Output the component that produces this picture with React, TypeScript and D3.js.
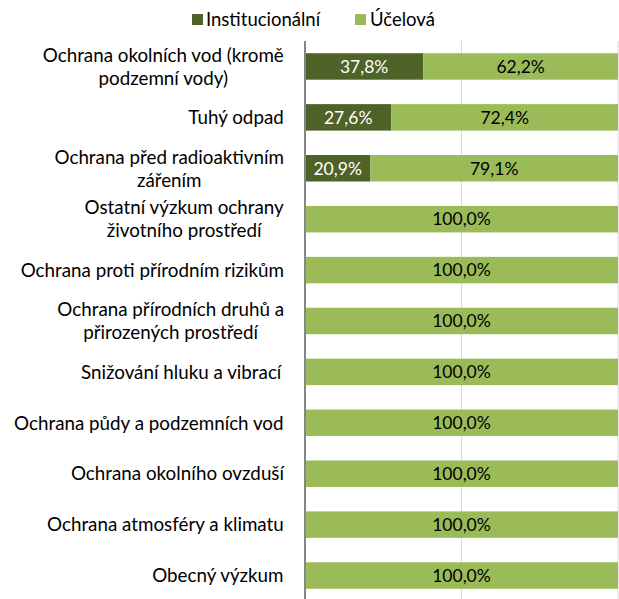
import React from 'react';
import * as d3 from 'd3';

const categories: string[][] = [
  ['Ochrana okolních vod (kromě', 'podzemní vody)'],
  ['Tuhý odpad'],
  ['Ochrana před radioaktivním', 'zářením'],
  ['Ostatní výzkum ochrany', 'životního prostředí'],
  ['Ochrana proti přírodním rizikům'],
  ['Ochrana přírodních druhů a', 'přirozených prostředí'],
  ['Snižování hluku a vibrací '],
  ['Ochrana půdy a podzemních vod'],
  ['Ochrana okolního ovzduší'],
  ['Ochrana atmosféry a klimatu'],
  ['Obecný výzkum'],
];

const institucionalni = [37.8, 27.6, 20.9, 0, 0, 0, 0, 0, 0, 0, 0];
const ucelova = [62.2, 72.4, 79.1, 100, 100, 100, 100, 100, 100, 100, 100];
const seriesNames = ['Institucionální', 'Účelová'];
const colors = ['#4f6228', '#9bbb59'];

const width = 619;
const height = 599;
const margin = { top: 41, right: 1, bottom: -2, left: 305 };
const font = 'Lato, "Open Sans", sans-serif';
const labelSize = 18.8;

const fmt = (v: number) => v.toFixed(1).replace('.', ',') + '%';

const ctx = document.createElement('canvas').getContext('2d')!;
const measure = (s: string) => {
  ctx.font = `${labelSize}px Lato`;
  return ctx.measureText(s).width;
};

export default function App() {
  const x = d3.scaleLinear().domain([0, 100]).range([margin.left, width - margin.right]);
  const y = d3
    .scaleBand<number>()
    .domain(categories.map((_, i) => i))
    .range([margin.top, height - margin.bottom])
    .paddingInner(0.48)
    .paddingOuter(0.24);

  const bh = y.bandwidth();

  return (
    <svg width={width} height={height} style={{ position: 'absolute', left: 0, top: 0 }} fontFamily={font}>
      <rect width={width} height={height} fill="#fff" />
      {/* legend */}
      <g fontSize={18.5}>
        <rect x={192} y={14} width={11} height={11} fill={colors[0]} />
        <text x={206} y={26} fill="#000">{seriesNames[0]}</text>
        <rect x={355} y={14} width={11} height={11} fill={colors[1]} />
        <text x={370} y={26} fill="#000">{seriesNames[1]}</text>
      </g>
      {/* gridlines */}
      {[50, 100].map((t) => (
        <line key={t} x1={x(t)} x2={x(t)} y1={margin.top} y2={height} stroke="#d9d9d9" strokeWidth={1} />
      ))}
      {/* bars */}
      {categories.map((_, i) => {
        const y0 = y(i)!;
        const a = institucionalni[i];
        const b = ucelova[i];
        return (
          <g key={i}>
            {a > 0 && (
              <rect x={x(0)} y={y0} width={x(a) - x(0)} height={bh} fill={colors[0]} />
            )}
            <rect x={x(a)} y={y0} width={x(a + b) - x(a)} height={bh} fill={colors[1]} />
            {a > 0 && (
              <text x={(x(0) + x(a)) / 2} y={y0 + bh / 2} dy="0.36em" textAnchor="middle" fontSize={17.5} fill="#fff">
                {fmt(a)}
              </text>
            )}
            <text x={(x(a) + x(a + b)) / 2} y={y0 + bh / 2} dy="0.36em" textAnchor="middle" fontSize={17.5} fill="#000">
              {fmt(b)}
            </text>
          </g>
        );
      })}
      {/* axis line */}
      <line x1={x(0)} x2={x(0)} y1={margin.top} y2={height} stroke="#868686" strokeWidth={2} />
      {/* category labels, wrapped lines centred within the block */}
      {categories.map((lines, i) => {
        const cy = y(i)! + bh / 2;
        const lh = 23;
        const start = cy - ((lines.length - 1) * lh) / 2;
        const blockW = Math.max(...lines.map(measure));
        const cx = 284 - blockW / 2;
        return (
          <text key={i} fontSize={labelSize} fill="#000" textAnchor="middle">
            {lines.map((l, j) => (
              <tspan key={j} x={cx} y={start + j * lh} dy="0.36em">
                {l}
              </tspan>
            ))}
          </text>
        );
      })}
    </svg>
  );
}
